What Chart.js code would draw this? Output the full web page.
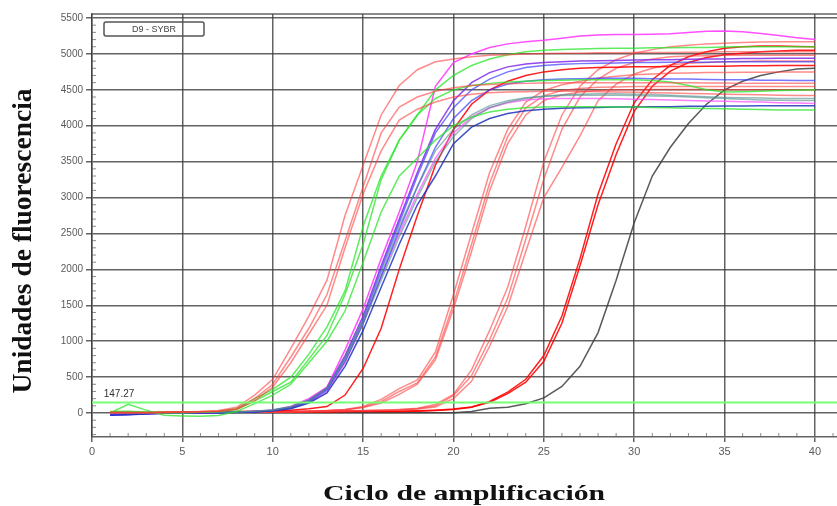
<!DOCTYPE html>
<html>
<head>
<meta charset="utf-8">
<script src="https://cdn.jsdelivr.net/npm/chart.js"></script>
<style>
  body { margin: 0; background: #fff; }
  canvas { display: block; }
</style>
</head>
<body>
<canvas id="chart" width="837" height="506"></canvas>
<script>
// ciclos 1..40
const cycles = [1,2,3,4,5,6,7,8,9,10,11,12,13,14,15,16,17,18,19,20,
                21,22,23,24,25,26,27,28,29,30,31,32,33,34,35,36,37,38,39,40];
const xTicks = [0,5,10,15,20,25,30,35,40];
const yTicks = [0,500,1000,1500,2000,2500,3000,3500,4000,4500,5000,5500];
const thresholdValue = 147.27;
const plateName = 'D9 - SYBR';

// curvas rojas tempranas
const redA1 = [15,10,5,10,15,20,35,80, 250,470,900,1350,1850,2750,3450,4150,
  4560,4780,4890,4930,4960,4980,4990,5000, 5005,5010,5010,5015,5015,5020,5020,5020,
  5025,5025,5030,5030,5030,5030,5030,5030];
const redA2 = [5,0,0,5,10,15,25,60, 200,400,780,1180,1650,2400,3150,3900,
  4260,4400,4480,4530,4560,4575,4585,4590, 4595,4600,4600,4600,4600,4600,4600,4600,
  4600,4595,4595,4590,4590,4590,4590,4590];
const redA3 = [0,5,10,10,15,20,25,50, 170,360,700,1100,1500,2300,3050,3650,
  4080,4230,4330,4400,4440,4460,4470,4475, 4480,4480,4480,4475,4470,4465,4460,4455,
  4450,4445,4440,4435,4430,4425,4420,4420];
// verdes
const greenB1 = [10,15,10,5,10,15,25,60, 200,330,500,820,1200,1700,2600,3300,
  3800,4150,4500,4700,4840,4930,4990,5030, 5050,5060,5070,5075,5080,5080,5085,5085,
  5090,5090,5095,5100,5100,5100,5100,5100];
const greenB2 = [20,25,15,10,5,10,20,50, 170,300,430,750,1080,1650,2350,3250,
  3800,4150,4380,4500,4560,4590,4610,4620, 4630,4635,4640,4640,4640,4640,4630,4610,
  4560,4500,4470,4475,4480,4490,4495,4500];
const greenB3 = [0,120,40,-30,-40,-45,-35,20, 130,250,400,700,1000,1420,2100,2800,
  3300,3550,3800,4000,4120,4190,4230,4250, 4260,4265,4265,4265,4260,4260,4255,4250,
  4245,4240,4235,4230,4225,4220,4220,4220];
// grupo azul / morado / magenta / gris
const magentaM1 = [-10,-5,0,0,5,5,10,15, 20,40,90,200,360,880,1450,2150,
  2800,3500,4550,4880,5000,5090,5140,5170, 5190,5220,5250,5265,5270,5270,5275,5280,
  5300,5315,5320,5310,5285,5255,5225,5200];
const purpleP1 = [-30,-20,-10,-5,0,5,5,10, 20,40,80,180,350,800,1350,2050,
  2700,3350,3950,4350,4600,4740,4820,4860, 4880,4890,4900,4905,4910,4915,4920,4920,
  4925,4930,4930,4935,4935,4940,4940,4940];
const blueB4 = [-25,-20,-10,0,0,5,10,10, 20,35,75,170,330,760,1300,2000,
  2650,3300,3900,4250,4500,4650,4750,4810, 4840,4855,4865,4870,4875,4880,4880,4885,
  4885,4885,4890,4890,4890,4890,4890,4890];
const blueB5 = [-20,-15,-10,-5,0,5,5,10, 15,30,70,160,320,720,1250,1900,
  2550,3150,3700,4100,4350,4500,4580,4620, 4640,4650,4655,4660,4660,4660,4655,4650,
  4650,4645,4640,4640,4635,4635,4630,4630];
const tealT1 = [0,5,5,0,5,10,10,15, 25,40,80,170,340,780,1300,1950,
  2600,3150,3650,3950,4150,4280,4350,4390, 4410,4420,4425,4425,4425,4420,4415,4410,
  4400,4390,4380,4370,4360,4355,4350,4350];
const tealT2 = [5,0,0,5,5,10,15,15, 25,45,90,180,350,740,1240,1850,
  2450,3000,3500,3850,4100,4250,4330,4380, 4410,4430,4440,4445,4445,4440,4435,4425,
  4415,4405,4395,4390,4385,4380,4380,4380];
const magentaM2 = [-15,-10,-5,0,0,5,10,10, 20,35,70,150,300,700,1250,1900,
  2500,3050,3550,3900,4120,4250,4320,4360, 4375,4380,4380,4380,4375,4370,4365,4360,
  4350,4345,4340,4335,4330,4320,4315,4310];
const blueB6 = [-30,-25,-15,-5,0,0,5,10, 15,30,60,140,280,650,1150,1750,
  2350,2900,3300,3750,3980,4100,4170,4210, 4230,4245,4250,4255,4260,4260,4265,4265,
  4270,4270,4275,4275,4280,4280,4280,4280];
// rojas tardias
const redD = [10,10,5,5,10,10,15,20, 25,30,40,60,90,250,620,1180,
  2000,2750,3450,3950,4300,4500,4620,4700, 4750,4780,4800,4810,4815,4820,4820,4825,
  4825,4830,4830,4835,4835,4840,4840,4840];
const redE1 = [0,0,5,5,5,10,10,10, 15,15,20,20,35,50,90,190,
  340,460,850,1650,2500,3350,3950,4330, 4490,4570,4620,4660,4690,4710,4720,4730,
  4735,4740,4740,4745,4745,4750,4750,4750];
const redE2 = [5,5,0,0,5,5,10,10, 10,15,15,20,30,45,80,160,
  300,420,780,1520,2350,3200,3850,4250, 4420,4490,4520,4535,4540,4545,4545,4545,
  4545,4545,4545,4545,4545,4545,4545,4545];
const redE3 = [0,5,5,10,10,10,10,15, 15,15,20,25,30,45,75,140,
  260,400,740,1450,2250,3100,3750,4150, 4350,4430,4470,4490,4500,4500,4505,4505,
  4505,4505,4500,4500,4500,4500,4500,4500];
const redF1 = [5,5,5,10,10,10,15,15, 15,20,20,25,25,30,35,40,
  50,65,120,260,600,1150,1750,2600, 3500,4150,4550,4780,4920,5010,5060,5100,
  5120,5140,5150,5160,5165,5170,5170,5170];
const redF2 = [0,5,5,5,10,10,10,15, 15,15,20,20,25,30,30,40,
  45,60,100,240,520,1020,1600,2420, 3260,3950,4400,4650,4800,4880,4930,4960,
  4970,4975,4980,4980,4980,4980,4980,4980];
const redF3 = [5,0,0,5,5,10,10,10, 15,15,15,20,20,25,30,35,
  40,55,85,200,440,930,1480,2250, 3000,3420,3860,4350,4580,4720,4800,4850,
  4870,4880,4890,4895,4900,4900,4900,4900];
const redG1 = [0,0,5,5,5,5,10,10, 10,10,15,15,15,20,20,20,
  20,25,35,50,80,160,290,470, 800,1350,2150,3050,3750,4320,4640,4840,
  4960,5030,5080,5100,5110,5110,5105,5100];
const redG2 = [5,5,5,10,10,10,10,15, 15,15,15,20,20,20,25,25,
  25,30,40,55,85,150,270,430, 720,1250,2050,2900,3600,4200,4550,4760,
  4880,4950,4990,5010,5030,5040,5050,5050];
const blackK = [0,0,0,5,5,5,5,5, 5,5,5,5,5,5,5,5,
  5,5,5,5,20,65,80,130, 210,370,650,1120,1850,2650,3300,3700,
  4030,4300,4500,4620,4700,4750,4790,4800];

const PINK = 'rgba(255,60,60,0.6)';
const RED = 'rgba(255,0,0,0.88)';
const GREEN = 'rgba(40,230,40,0.75)';
const BLUE = 'rgba(60,60,255,0.7)';
const curves = [
  [redA1, PINK], [redA2, PINK], [redA3, PINK],
  [greenB1, GREEN], [greenB2, GREEN], [greenB3, GREEN],
  [tealT1, 'rgba(80,140,140,0.6)'], [tealT2, 'rgba(80,140,140,0.6)'],
  [blueB6, 'rgba(30,50,190,0.85)'], [blueB5, BLUE], [blueB4, BLUE],
  [magentaM2, 'rgba(255,80,255,0.75)'], [purpleP1, 'rgba(130,40,230,0.85)'],
  [magentaM1, 'rgba(255,60,255,0.9)'],
  [redD, RED], [redE1, PINK], [redE2, PINK], [redE3, PINK],
  [redF1, PINK], [redF2, PINK], [redF3, PINK],
  [redG1, RED], [redG2, RED], [blackK, 'rgba(60,60,60,0.85)']
];

const GRID = 'rgba(60,60,60,0.8)';
const TICK = '#5a5a5a';

const datasets = curves.map(([vals, color]) => ({
  data: vals.map((v, i) => ({ x: cycles[i], y: v })),
  borderColor: color,
  borderWidth: 1.5
}));
datasets.unshift({
  data: [{ x: 0, y: thresholdValue }, { x: 41.22, y: thresholdValue }],
  borderColor: 'rgba(110,255,110,0.95)',
  borderWidth: 2
});

const decor = {
  id: 'decor',
  beforeDraw(chart) {
    const ctx = chart.ctx;
    ctx.save();
    ctx.fillStyle = '#fff';
    ctx.fillRect(0, 0, chart.width, chart.height);
    ctx.restore();
  },
  afterDraw(chart) {
    const { ctx, chartArea: a, scales: { x, y } } = chart;
    ctx.save();
    ctx.strokeStyle = GRID;
    ctx.lineWidth = 1.5;
    // borde superior
    ctx.beginPath();
    ctx.moveTo(a.left, a.top);
    ctx.lineTo(a.right, a.top);
    ctx.stroke();
    // marcas menores
    ctx.lineWidth = 1;
    ctx.strokeStyle = 'rgba(90,90,90,0.7)';
    ctx.beginPath();
    for (let c = 1; c <= 41; c++) {
      if (c % 5 === 0) continue;
      const px = x.getPixelForValue(c);
      ctx.moveTo(px, a.bottom);
      ctx.lineTo(px, a.bottom - 4);
    }
    for (let v = -300; v <= 5500; v += 100) {
      if (v % 500 === 0) continue;
      const py = y.getPixelForValue(v);
      ctx.moveTo(a.left, py);
      ctx.lineTo(a.left + 4, py);
    }
    ctx.stroke();

    // recuadro del nombre
    ctx.strokeStyle = '#555';
    ctx.lineWidth = 1.5;
    ctx.beginPath();
    ctx.roundRect(a.left + 12, a.top + 8, 100, 14, 2);
    ctx.stroke();
    ctx.fillStyle = '#444';
    ctx.font = '9px "Liberation Sans", Arial, sans-serif';
    ctx.textAlign = 'center';
    ctx.textBaseline = 'middle';
    ctx.fillText(plateName, a.left + 62, a.top + 15.5);

    // etiqueta del umbral
    ctx.font = '10px "Liberation Sans", Arial, sans-serif';
    ctx.fillStyle = '#333';
    ctx.textAlign = 'left';
    ctx.textBaseline = 'alphabetic';
    ctx.fillText(thresholdValue.toFixed(2), x.getPixelForValue(0.65), y.getPixelForValue(thresholdValue) - 5);

    // titulos
    ctx.fillStyle = '#111';
    ctx.font = 'bold 27.5px "Liberation Serif", "DejaVu Serif", serif';
    ctx.textAlign = 'center';
    ctx.save();
    ctx.translate(31, 241);
    ctx.rotate(-Math.PI / 2);
    ctx.fillText('Unidades de fluorescencia', 0, 0);
    ctx.restore();

    ctx.font = 'bold 21px "Liberation Serif", "DejaVu Serif", serif';
    const t = 'Ciclo de amplificación';
    const w = ctx.measureText(t).width;
    ctx.save();
    ctx.translate(464, 500);
    ctx.scale(282 / w, 1);
    ctx.fillText(t, 0, 0);
    ctx.restore();
    ctx.restore();
  }
};

new Chart(document.getElementById('chart'), {
  type: 'line',
  data: { datasets },
  options: {
    responsive: false,
    devicePixelRatio: 1,
    animation: false,
    layout: { padding: { top: 14, right: 0, left: 0, bottom: 0 } },
    elements: { point: { radius: 0 }, line: { tension: 0 } },
    plugins: { legend: { display: false }, tooltip: { enabled: false } },
    scales: {
      x: {
        type: 'linear',
        min: 0,
        max: 41.22,
        afterBuildTicks: s => { s.ticks = xTicks.map(v => ({ value: v })); },
        afterFit: s => { s.height = 69; },
        grid: { color: GRID, lineWidth: 1.5, tickLength: 5, tickColor: GRID },
        border: { color: GRID, width: 1.5 },
        ticks: {
          color: TICK, font: { size: 11, family: '"Liberation Sans", Arial, sans-serif' },
          padding: 3, maxRotation: 0, callback: v => String(v)
        }
      },
      y: {
        min: -334,
        max: 5556,
        afterBuildTicks: s => { s.ticks = yTicks.map(v => ({ value: v })); },
        afterFit: s => { s.width = 92; },
        grid: { color: GRID, lineWidth: 1.5, tickLength: 6, tickColor: GRID },
        border: { color: GRID, width: 1.5 },
        ticks: {
          color: TICK, font: { size: 10, family: '"Liberation Sans", Arial, sans-serif' },
          padding: 3, callback: v => String(v)
        }
      }
    }
  },
  plugins: [decor]
});
</script>
</body>
</html>
